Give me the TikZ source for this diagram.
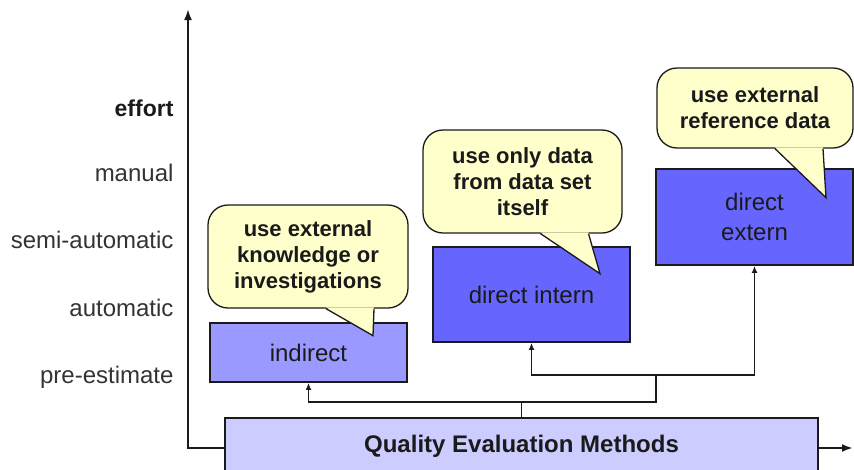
\documentclass[tikz,border=0pt]{standalone}
\usepackage{fontspec}
\setmainfont{Liberation Sans}
\usetikzlibrary{arrows.meta,positioning}
\definecolor{lightlav}{HTML}{CCCCFF}
\definecolor{midblue}{HTML}{9999FF}
\definecolor{deepblue}{HTML}{6666FF}
\definecolor{notefill}{HTML}{FFFFCC}
\definecolor{edge}{HTML}{1A1A1A}
\tikzset{
  method/.style={draw=edge, line width=1.8pt, minimum width=197pt, text=edge,
    font=\fontsize{24}{30}\selectfont, align=center},
  level/.style={anchor=east, text=black!80, font=\fontsize{24}{28}\selectfont},
  note/.style={draw=edge, line width=1.3pt, fill=notefill, rounded corners=20pt,
    align=center, text=edge, font=\fontsize{22}{26}\selectfont\bfseries, inner sep=0pt},
  link/.style={draw=edge, line width=1.5pt},
  tip/.style={-{Latex[length=7pt,width=6pt]}},
  axis/.style={draw=edge, line width=2.6pt, {Latex[length=11pt,width=8pt]}-{Latex[length=11pt,width=8pt]}},
}
\begin{document}
\begin{tikzpicture}[x=1pt,y=-1pt]
  \useasboundingbox (0,0) rectangle (854,469);
  % axes
  \coordinate (origin) at (188,448);
  \coordinate (ytop) at (188,9);
  \coordinate (xend) at (853,448);
  \draw[axis] (ytop) -- (origin) -- (xend);
  % effort levels
  \node[level, font=\fontsize{23}{28}\selectfont\bfseries, text=edge] (effort) at (177,108) {effort};
  \node[level] (manual) at (177,173) {manual};
  \node[level] (semi) at (177,240) {semi-automatic};
  \node[level] (auto) at (177,308) {automatic};
  \node[level] (pre) at (177,377) {pre-estimate};
  % methods
  \node[method, fill=lightlav, minimum width=593pt, minimum height=56pt,
    font=\fontsize{24}{30}\selectfont\bfseries] (methods) at (521.5,446) {Quality Evaluation Methods};
  \node[method, fill=midblue, minimum height=59pt] (indirect) at (308.5,352.5) {indirect};
  \node[method, fill=deepblue, minimum height=95pt] (intern) at (531.5,294.5) {direct intern};
  \node[method, fill=deepblue, minimum height=96pt] (extern) at (754.5,217) {direct\\extern};
  % connectors
  \coordinate (split) at (521.5,402);
  \coordinate (fork) at (656,375);
  \draw[link] (methods.north) -- (split);
  \draw[link,tip] (split) -| (indirect.south);
  \draw[link] (split) -| (fork);
  \draw[link,tip] (fork) -| (intern.south);
  \draw[link,tip] (fork) -| (extern.south);
  % callouts
  \node[note, minimum width=200pt, minimum height=103pt] (note1) at (308,256.5)
    {use external\\knowledge or\\investigations};
  \node[note, minimum width=199pt, minimum height=103pt] (note2) at (522.5,181.5)
    {use only data\\from data set\\itself};
  \node[note, minimum width=196pt, minimum height=80pt] (note3) at (755,108)
    {use external\\reference data};
  \coordinate (tip1) at ([xshift=65pt,yshift=-27pt]note1.south);
  \coordinate (tip2) at ([xshift=77.5pt,yshift=-40pt]note2.south);
  \coordinate (tip3) at ([xshift=71pt,yshift=-49pt]note3.south);
  \fill[notefill] ([xshift=18pt,yshift=1.3pt]note1.south) -- (tip1) -- ([xshift=66pt,yshift=1.3pt]note1.south) -- cycle;
  \draw[edge, line width=1.3pt] ([xshift=18pt]note1.south) -- (tip1) -- ([xshift=66pt]note1.south);
  \fill[notefill] ([xshift=18pt,yshift=1.3pt]note2.south) -- (tip2) -- ([xshift=66pt,yshift=1.3pt]note2.south) -- cycle;
  \draw[edge, line width=1.3pt] ([xshift=18pt]note2.south) -- (tip2) -- ([xshift=66pt]note2.south);
  \fill[notefill] ([xshift=20pt,yshift=1.3pt]note3.south) -- (tip3) -- ([xshift=68pt,yshift=1.3pt]note3.south) -- cycle;
  \draw[edge, line width=1.3pt] ([xshift=20pt]note3.south) -- (tip3) -- ([xshift=68pt]note3.south);
\end{tikzpicture}
\end{document}
